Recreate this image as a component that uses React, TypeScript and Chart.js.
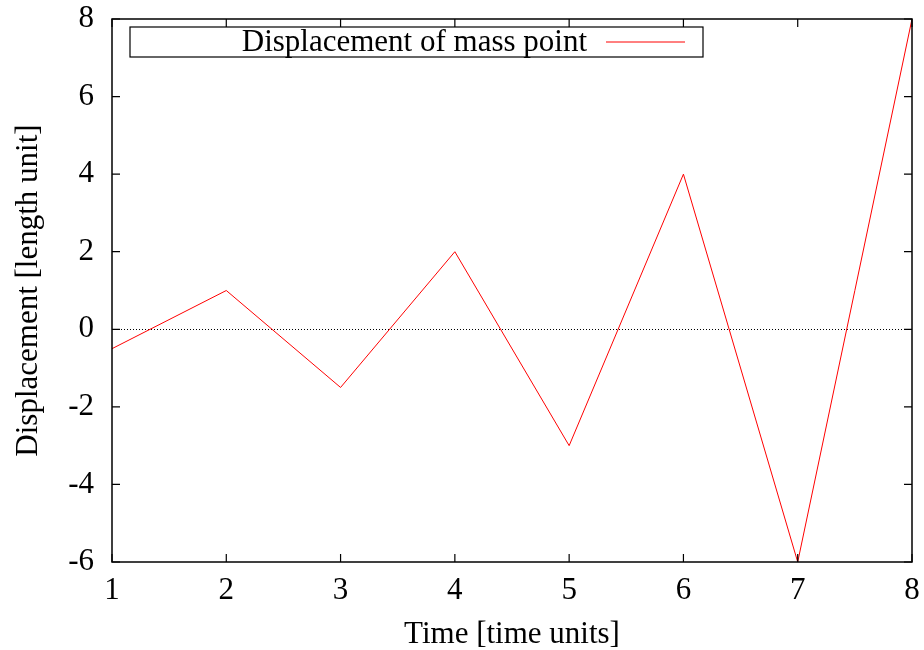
import React, { useEffect, useRef } from "react";
import { Chart, registerables } from "chart.js";

Chart.register(...registerables);

const times = [1, 2, 3, 4, 5, 6, 7, 8];
const displacement = [-0.5, 1, -1.5, 2, -3, 4, -6, 8];
const seriesLabel = "Displacement of mass point";
const xTitle = "Time [time units]";
const yTitle = "Displacement [length unit]";

const FONT = "'Liberation Serif', 'DejaVu Serif', serif";
const FS = 31;

const framePlugin = {
  id: "frame",
  beforeDatasetsDraw(chart: any) {
    const { ctx, chartArea: a, scales } = chart;
    const y0 = scales.y.getPixelForValue(0);
    ctx.save();
    ctx.strokeStyle = "#000";
    ctx.lineWidth = 1;
    ctx.setLineDash([1, 2]);
    ctx.beginPath();
    ctx.moveTo(a.left, Math.round(y0) + 0.5);
    ctx.lineTo(a.right, Math.round(y0) + 0.5);
    ctx.stroke();
    ctx.restore();
  },
  afterDraw(chart: any) {
    const { ctx, chartArea: a, scales } = chart;
    ctx.save();
    ctx.strokeStyle = "#000";
    ctx.lineWidth = 1.5;
    ctx.setLineDash([]);
    ctx.strokeRect(a.left, a.top, a.right - a.left, a.bottom - a.top);
    ctx.lineWidth = 1.2;
    const tl = 8;
    ctx.beginPath();
    scales.x.ticks.forEach((t: any) => {
      const x = scales.x.getPixelForValue(t.value);
      ctx.moveTo(x, a.bottom);
      ctx.lineTo(x, a.bottom - tl);
      ctx.moveTo(x, a.top);
      ctx.lineTo(x, a.top + tl);
    });
    scales.y.ticks.forEach((t: any) => {
      const y = scales.y.getPixelForValue(t.value);
      ctx.moveTo(a.left, y);
      ctx.lineTo(a.left + tl, y);
      ctx.moveTo(a.right, y);
      ctx.lineTo(a.right - tl, y);
    });
    ctx.stroke();

    // legend box
    const bx = 130, by = 27, bw = 573, bh = 30;
    ctx.fillStyle = "#fff";
    ctx.fillRect(bx, by, bw, bh);
    ctx.lineWidth = 1.2;
    ctx.strokeRect(bx, by, bw, bh);
    ctx.fillStyle = "#000";
    ctx.font = `${FS}px ${FONT}`;
    ctx.textAlign = "right";
    ctx.textBaseline = "middle";
    ctx.fillText(seriesLabel, 587, by + bh / 2 + 1);
    ctx.strokeStyle = "#ff0000";
    ctx.lineWidth = 1;
    ctx.beginPath();
    ctx.moveTo(606, by + bh / 2);
    ctx.lineTo(685, by + bh / 2);
    ctx.stroke();
    ctx.restore();
  },
};

function zeroPad(s: any) {
  s.paddingTop = 0;
  s.paddingBottom = 0;
  s.paddingLeft = 0;
  s.paddingRight = 0;
}

export default function App() {
  const ref = useRef<HTMLCanvasElement | null>(null);
  useEffect(() => {
    if (!ref.current) return;
    const chart = new Chart(ref.current, {
      type: "line",
      data: {
        datasets: [
          {
            label: seriesLabel,
            data: times.map((t, i) => ({ x: t, y: displacement[i] })),
            borderColor: "#ff0000",
            borderWidth: 1,
            pointRadius: 0,
            tension: 0,
            fill: false,
          },
        ],
      },
      options: {
        responsive: false,
        animation: false,
        layout: { padding: { left: 0, top: 19, right: 12, bottom: 0 } },
        plugins: { legend: { display: false }, tooltip: { enabled: false } },
        scales: {
          x: {
            type: "linear",
            min: 1,
            max: 8,
            grid: { display: false, drawTicks: false },
            border: { display: false },
            ticks: {
              stepSize: 1,
              padding: 10,
              color: "#000",
              font: { family: FONT, size: FS },
              maxRotation: 0,
            },
            title: {
              display: true,
              text: xTitle,
              color: "#000",
              font: { family: FONT, size: FS },
              padding: { top: 10, bottom: -3 },
            },
            afterFit(s: any) {
              s.height = 88;
              zeroPad(s);
            },
          },
          y: {
            type: "linear",
            min: -6,
            max: 8,
            grid: { display: false, drawTicks: false },
            border: { display: false },
            ticks: {
              stepSize: 2,
              padding: 18,
              color: "#000",
              font: { family: FONT, size: FS },
              callback: (v: any) => String(v),
            },
            title: {
              display: true,
              text: yTitle,
              color: "#000",
              font: { family: FONT, size: FS },
              padding: { top: 10, bottom: 0 },
            },
            afterFit(s: any) {
              s.width = 112;
              zeroPad(s);
            },
          },
        },
      },
      plugins: [framePlugin],
    });
    return () => chart.destroy();
  }, []);
  return (
    <div style={{ position: "fixed", left: 0, top: 0, width: 924, height: 650, background: "#fff" }}>
      <canvas ref={ref} width={924} height={650} style={{ width: 924, height: 650, display: "block" }} />
    </div>
  );
}
